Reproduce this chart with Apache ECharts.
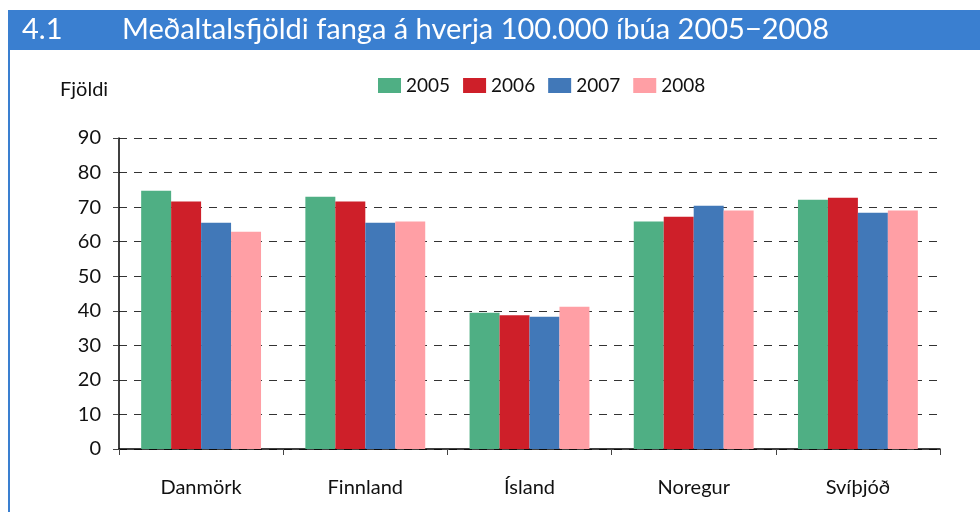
<!DOCTYPE html>
<html>
<head>
<meta charset="utf-8">
<script src="https://cdn.jsdelivr.net/npm/echarts@6/dist/echarts.min.js"></script>
<style>
	html, body { margin: 0; padding: 0; background: #fff; }
	#chart { width: 980px; height: 512px; }
</style>
</head>
<body>
<div id="chart"></div>
<script>
// Data
var countries = ['Danmörk', 'Finnland', 'Ísland', 'Noregur', 'Svíþjóð']
var years = ['2005', '2006', '2007', '2008']
var values2005 = [74.7, 73.0, 39.4, 65.8, 72.1]
var values2006 = [71.6, 71.6, 38.7, 67.2, 72.7]
var values2007 = [65.5, 65.5, 38.3, 70.4, 68.4]
var values2008 = [62.9, 65.8, 41.2, 69.0, 69.0]
var yTicks = [0, 10, 20, 30, 40, 50, 60, 70, 80, 90]

var colors = ['#4faf84', '#ce1f29', '#4178b8', '#ff9fa5']
var FONT = 'Lato'

var chart = echarts.init(document.getElementById('chart'))

var seriesData = [values2005, values2006, values2007, values2008]

var option = {
	animation: false,
	textStyle: { fontFamily: FONT },
	graphic: [
		// title bar + left frame line
		{ type: 'rect', shape: { x: 8, y: 10, width: 972, height: 40 }, style: { fill: '#3a7fd0' } },
		{ type: 'rect', shape: { x: 8, y: 50, width: 2, height: 462 }, style: { fill: '#3a7fd0' } },
		{ type: 'text', left: 22, top: 15, style: { text: '4.1', fill: '#fff', font: '29px ' + FONT } },
		{ type: 'text', left: 122, top: 15, style: { text: 'Meðaltalsfjöldi fanga á hverja 100.000 íbúa 2005−2008', fill: '#fff', font: '29px ' + FONT } },
		// axis name
		{ type: 'text', left: 60, top: 80, style: { text: 'Fjöldi', fill: '#111', font: '20px ' + FONT } },
	],
	legend: {
		data: years,
		left: 373,
		top: 71,
		itemWidth: 23,
		itemHeight: 15,
		itemGap: 13,
		icon: 'rect',
		textStyle: { fontSize: 19, color: '#111' },
	},
	grid: { left: 119, right: 40, top: 138, bottom: 63 },
	xAxis: {
		type: 'category',
		data: countries,
		axisLine: { lineStyle: { color: '#000', width: 1.5 } },
		axisTick: { show: true, length: 6, lineStyle: { color: '#444' } },
		axisLabel: { fontSize: 20, color: '#111', margin: 29 },
	},
	yAxis: {
		type: 'value',
		min: yTicks[0],
		max: yTicks[yTicks.length - 1],
		interval: 10,
		axisLine: { show: true, lineStyle: { color: '#000', width: 1.5 } },
		axisTick: { show: true, length: 6, lineStyle: { color: '#444' } },
		axisLabel: { fontSize: 20, color: '#111', margin: 18 },
		splitLine: { lineStyle: { color: '#333', type: [8, 7], width: 1.2 } },
	},
	series: seriesData.map((vals, i) => {
		return {
			name: years[i],
			type: 'bar',
			data: vals,
			barGap: '0%',
			barCategoryGap: '27%',
			itemStyle: { color: colors[i] },
		}
	}),
}

chart.setOption(option)
</script>
</body>
</html>
